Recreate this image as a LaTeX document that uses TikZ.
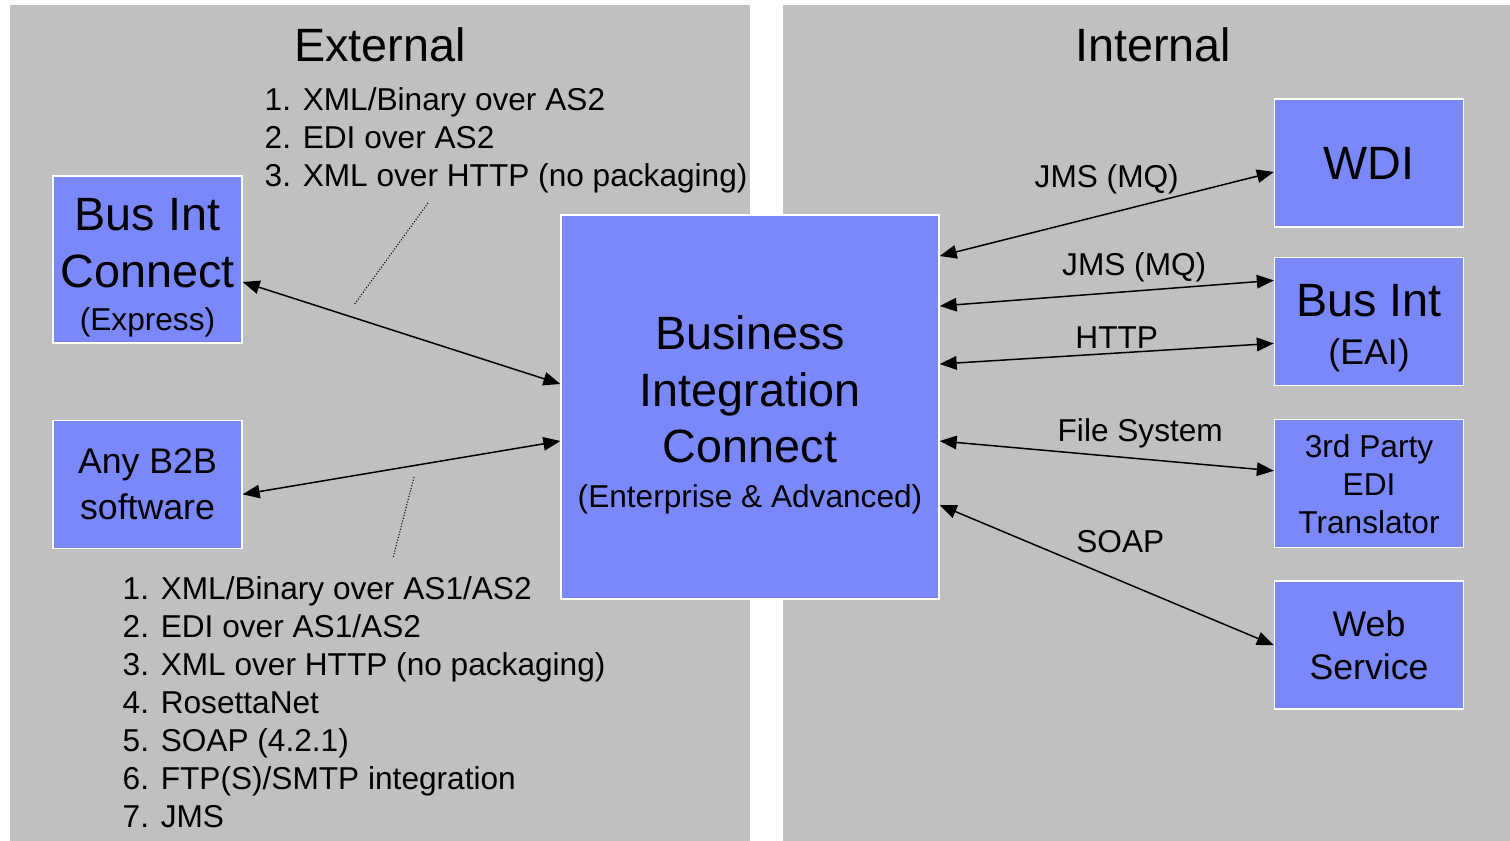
\documentclass[tikz,border=0pt]{standalone}
\usepackage{fontspec}
\setmainfont{Liberation Sans}
\usetikzlibrary{arrows.meta, positioning}

\definecolor{panelgray}{RGB}{192,192,192}
\definecolor{boxblue}{RGB}{122,136,250}
\newcommand{\txtL}{\fontsize{26.6}{32.4}\selectfont}
\newcommand{\txtM}{\fontsize{20.3}{26.2}\selectfont}
\newcommand{\txtS}{\fontsize{18}{21.6}\selectfont}

\begin{document}
\begin{tikzpicture}[x=0.02cm, y=-0.02cm, thick,
        box/.style={draw=white, line width=0.8pt, fill=boxblue, minimum width=3.78cm, minimum height=2.56cm, inner sep=1pt, align=center, font=\txtL},
        arrow/.style={{Triangle[length=0.34cm,width=0.27cm]}-{Triangle[length=0.34cm,width=0.27cm]}, line width=0.85pt},
        note/.style={densely dotted, line width=0.6pt},
        lbl/.style={font=\txtS, inner sep=0pt},
        every node/.style={align=center}]

        \useasboundingbox (0,0) rectangle (1510,841);

        % Panels
        \fill[panelgray] (10,5) rectangle (750,841);
        \fill[panelgray] (783,5) rectangle (1510,841);
        \node[font=\txtL] (exttitle) at (380,45) {External};
        \node[font=\txtL] (inttitle) at (1153,45) {Internal};

        % Nodes
        \node [box, minimum width=7.56cm, minimum height=7.68cm] (bic) at (750,407) {\rule{0pt}{28pt}Business\\Integration\\Connect\\[-7pt]{\txtS (Enterprise \& Advanced)}};
        \node [box, minimum height=3.34cm] (busexp) at (147.5,259.5) {\rule{0pt}{27.6pt}Bus Int\\Connect\\[-7.5pt]{\txtS (Express)}};
        \node [box, font=\txtM, below=1.52cm of busexp] (b2b) {Any B2B\\software};
        \node [box] (wdi) at (1369,163) {WDI};
        \node [box, below=0.58cm of wdi] (eai) {\rule{0pt}{26pt}Bus Int\\[-5pt]{\txtM (EAI)}};
        \node [box, font=\txtS, below=0.66cm of eai] (edi) {3rd Party\\EDI\\Translator};
        \node [box, font=\txtM, below=0.64cm of edi] (web) {Web\\[-1.7pt]Service};

        % Protocol lists
        \node [lbl, align=left, anchor=west] (extlist) at (264,140) {1. XML/Binary over AS2\\2. EDI over AS2\\3. XML over HTTP (no packaging)};
        \node [lbl, align=left, anchor=west] (b2blist) at (122,702) {1. XML/Binary over AS1/AS2\\2. EDI over AS1/AS2\\3. XML over HTTP (no packaging)\\4. RosettaNet\\5. SOAP (4.2.1)\\6. FTP(S)/SMTP integration\\7. JMS};
        \coordinate (exttop) at (428,203);
        \coordinate (extbot) at (354,305);
        \coordinate (b2btop) at (414,477);
        \coordinate (b2bbot) at (393,558);
        \draw [note] (exttop) -- (extbot);
        \draw [note] (b2btop) -- (b2bbot);

        % Arrows
        \draw [arrow] ([yshift=-0.45cm]busexp.east) -- ([yshift=0.46cm]bic.west);
        \draw [arrow] ([yshift=-0.2cm]b2b.east) -- ([yshift=-0.68cm]bic.west);
        \draw [arrow] ([yshift=3.02cm]bic.east) -- node[lbl, yshift=0.7cm] {JMS (MQ)} ([yshift=-0.18cm]wdi.west);
        \draw [arrow] ([yshift=2.02cm]bic.east) -- node[lbl, xshift=0.55cm, yshift=0.52cm] {JMS (MQ)} ([yshift=0.82cm]eai.west);
        \draw [arrow] ([yshift=0.86cm]bic.east) -- node[lbl, xshift=0.2cm, yshift=0.33cm] {HTTP} ([yshift=-0.44cm]eai.west);
        \draw [arrow] ([yshift=-0.68cm]bic.east) -- node[lbl, xshift=0.67cm, yshift=0.45cm] {File System} ([yshift=0.26cm]edi.west);
        \draw [arrow] ([yshift=-1.96cm]bic.east) -- node[lbl, xshift=0.27cm, yshift=0.66cm] {SOAP} (web.west);
\end{tikzpicture}
\end{document}
